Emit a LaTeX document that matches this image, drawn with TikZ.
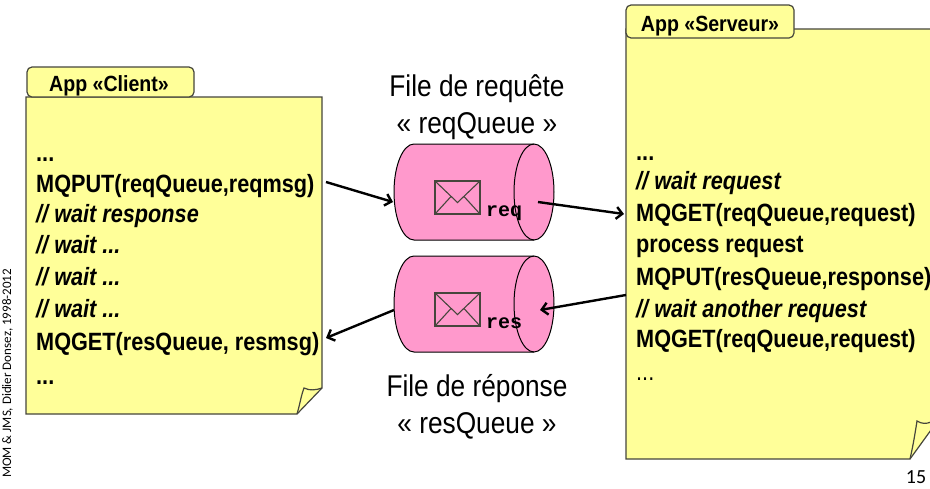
\documentclass[tikz,border=0pt]{standalone}
\usepackage{fontspec}
\setmainfont{Liberation Sans}
\newfontfamily\calfam{Carlito}
\newfontfamily\monfam{Liberation Mono}
\newfontfamily\narrowfam[FakeStretch=0.867]{Liberation Sans}
\newfontfamily\tabfam[FakeStretch=0.89]{Liberation Sans}
\newfontfamily\titlefam[FakeStretch=0.875]{Liberation Sans}
\usetikzlibrary{arrows.meta}
\definecolor{noteY}{RGB}{255,255,153}
\definecolor{pinkQ}{RGB}{255,153,204}
\definecolor{edgeG}{RGB}{70,70,60}
\tikzset{
  notebody/.style={fill=noteY,draw=edgeG,line width=1.2pt,line join=miter},
  notetab/.style={fill=noteY,draw=edgeG,line width=1.2pt,rounded corners=5pt},
  tabtext/.style={font=\tabfam\bfseries\fontsize{22}{22}\selectfont,inner sep=0pt,anchor=base},
  code/.style={font=\narrowfam\bfseries\fontsize{25}{25}\selectfont,inner sep=0pt,anchor=base west},
  codei/.style={font=\narrowfam\bfseries\itshape\fontsize{25}{25}\selectfont,inner sep=0pt,anchor=base west},
  plain/.style={font=\narrowfam\fontsize{25}{25}\selectfont,inner sep=0pt,anchor=base west},
  title/.style={font=\titlefam\fontsize{30}{30}\selectfont,inner sep=0pt,anchor=base},
  cyl/.style={fill=pinkQ,draw=black,line width=1pt},
  envel/.style={draw=edgeG,line width=1.1pt},
  qlabel/.style={font=\monfam\bfseries\fontsize{20}{20}\selectfont,inner sep=0pt,anchor=base west},
  conn/.style={draw=black,line width=2.4pt,-{Straight Barb[length=6pt,width=12pt,line width=2.4pt]}},
}
\newcommand{\queue}[3]{%
  \coordinate (#1tl) at (414,#2);
  \path[cyl] (414,#2) -- (534,#2) arc[start angle=-90,end angle=90,x radius=20,y radius=48] -- (414,#2+96) arc[start angle=90,end angle=270,x radius=20,y radius=48] -- cycle;
  \draw[line width=1pt] (534,#2) arc[start angle=270,end angle=90,x radius=20,y radius=48];
  \draw[envel] (435,#2+37) rectangle (480,#2+70);
  \draw[envel] (435,#2+37) -- (457.5,#2+58.5) -- (480,#2+37);
  \draw[envel] (435,#2+70) -- (451,#2+52.5);
  \draw[envel] (480,#2+70) -- (464,#2+52.5);
  \node[qlabel] (#1label) at (486,#2+72) {#3};
}
\begin{document}
\begin{tikzpicture}[x=1pt,y=-1pt]
\useasboundingbox (0,0) rectangle (930,488);
\fill[white] (0,0) rectangle (930,488);

% client note
\path[notebody] (26,97) -- (322,97) -- (322,388) -- (297,414) -- (26,414) -- cycle;
\draw[edgeG,line width=1.2pt] (297,414) .. controls (300,404) and (301,396) .. (304,388) .. controls (310,391) and (316,390) .. (322,388);
\node[notetab,minimum width=167pt,minimum height=30pt,inner sep=0pt] (clienttab) at (110.5,82) {};
\node[tabtext] (clienttitle) at (109,91) {App «Client»};
\node[code] (c1) at (36,161) {...};
\node[code] (c2) at (36,192) {MQPUT(reqQueue,reqmsg)};
\node[codei] (c3) at (36,222) {// wait response};
\node[codei] (c4) at (36,253) {// wait ...};
\node[codei] (c5) at (36,285) {// wait ...};
\node[codei] (c6) at (36,317) {// wait ...};
\node[code] (c7) at (36,350) {MQGET(resQueue, resmsg)};
\node[code] (c8) at (36,384) {...};

% server note
\path[notebody] (931,29) -- (626,29) -- (626,459) -- (910,459) -- (931,430);
\draw[edgeG,line width=1.2pt] (910,459) .. controls (913,446) and (915,434) .. (917,421) .. controls (922,424) and (926,424) .. (931,422);
\node[notetab,minimum width=168pt,minimum height=33pt,inner sep=0pt] (servertab) at (710,21.5) {};
\node[tabtext] (servertitle) at (710,31) {App «Serveur»};
\node[code] (s1) at (636,160) {...};
\node[codei] (s2) at (636,189) {// wait request};
\node[code] (s3) at (636,221) {MQGET(reqQueue,request)};
\node[code] (s4) at (636,252) {process request};
\node[code] (s5) at (636,285) {MQPUT(resQueue,response)};
\node[codei] (s6) at (636,317) {// wait another request};
\node[code] (s7) at (636,347) {MQGET(reqQueue,request)};
\node[plain] (s8) at (636,380) {...};

% titles
\node[title] (t1) at (477,96) {File de requête};
\node[title] (t2) at (477,133) {« reqQueue »};
\node[title] (t3) at (477,396) {File de réponse};
\node[title] (t4) at (477,433) {« resQueue »};

% queues
\queue{req}{144}{req}
\queue{res}{256}{res}

% connectors
\coordinate (a1s) at (326,182);
\coordinate (a1e) at (393,202);
\coordinate (a2s) at (538,202);
\coordinate (a2e) at (624,214);
\coordinate (a3s) at (626,295);
\coordinate (a3e) at (540,310);
\coordinate (a4s) at (394,310);
\coordinate (a4e) at (326,338);
\draw[conn] (a1s) -- (a1e);
\draw[conn] (a2s) -- (a2e);
\draw[conn] (a3s) -- (a3e);
\draw[conn] (a4s) -- (a4e);

% footer
\node[font=\calfam\fontsize{13}{13}\selectfont,inner sep=0pt,rotate=90,anchor=base west] (foot) at (11,478) {MOM \& JMS, Didier Donsez, 1998-2012};
\node[font=\calfam\fontsize{20}{20}\selectfont,inner sep=0pt,anchor=base] (pg) at (916,483) {15};
\end{tikzpicture}
\end{document}
